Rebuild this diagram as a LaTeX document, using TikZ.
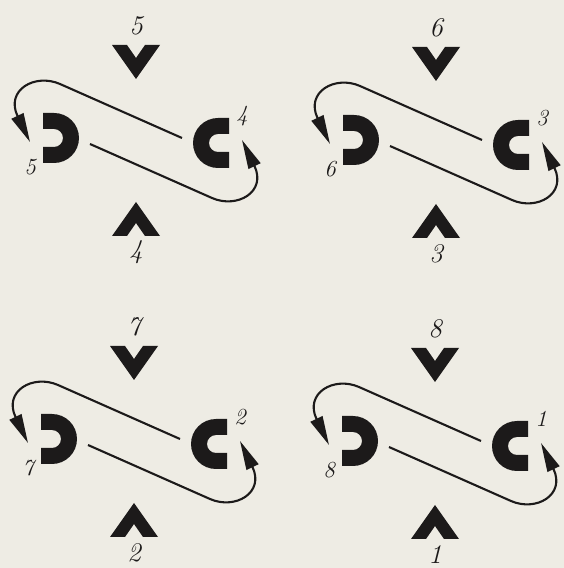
\documentclass[tikz,border=0pt]{standalone}
\usepackage{tikz}
\usetikzlibrary{arrows.meta}
\definecolor{paper}{RGB}{238,236,228}
\definecolor{inkc}{RGB}{28,26,26}

\begin{document}
\begin{tikzpicture}[x=1pt, y=1pt,
  ink/.style={fill=inkc, draw=none},
  lnk/.style={draw=inkc, line width=2.1pt},
  arr/.style={lnk, -{Triangle[length=29pt,width=13pt]}},
  num/.style={font=\fontsize{27}{27}\selectfont\itshape, text=inkc, inner sep=0pt},
  sub/.style={font=\fontsize{23}{23}\selectfont\itshape, text=inkc, inner sep=0pt}
]
  \fill[paper] (0,0) rectangle (564,568);
  \useasboundingbox (0,0) rectangle (564,568);
  \foreach \cx/\cy/\up/\dn [count=\k] in {136/427/5/4, 436/425/6/3, 134/126/7/2, 435/124/8/1} {
    \begin{scope}[shift={(\cx,\cy)}]
      \node[num] (t\k) at (0,115)    {\up};
      \node[num] (b\k) at (0,-111)   {\dn};
      \node[sub] (l\k) at (-106,-26) {\up};
      \node[sub] (r\k) at (106,25)   {\dn};
      % chevrons
      \fill[ink] (-24,96) -- (-9,96) -- (0,83) -- (9,96) -- (24,96) -- (0,62) -- cycle;
      \fill[ink] (-24,-95) -- (-9,-95) -- (0,-82) -- (9,-95) -- (24,-95) -- (0,-61) -- cycle;
      % half rings
      \fill[ink] (-93,28) -- (-82,28) arc[start angle=90, end angle=-90, radius=25]
        -- (-93,-22) -- (-93,-6) -- (-82,-6) arc[start angle=-90, end angle=90, radius=9]
        -- (-93,12) -- cycle;
      \fill[ink] (93,23) -- (82,23) arc[start angle=90, end angle=270, radius=25]
        -- (93,-27) -- (93,-11) -- (82,-11) arc[start angle=270, end angle=90, radius=9]
        -- (93,7) -- cycle;
      % loops
      \coordinate (us\k) at (46,3);
      \coordinate (ub\k) at (-76,57);
      \coordinate (ue\k) at (-106,-1);
      \coordinate (ls\k) at (-46,-3);
      \coordinate (lb\k) at (76,-57);
      \coordinate (le\k) at (106,1);
      \draw[arr] (us\k) -- (ub\k) .. controls (-101,68) and (-131,51) .. (ue\k);
      \draw[arr] (ls\k) -- (lb\k) .. controls (101,-68) and (131,-51) .. (le\k);
    \end{scope}
  }
\end{tikzpicture}
\end{document}
